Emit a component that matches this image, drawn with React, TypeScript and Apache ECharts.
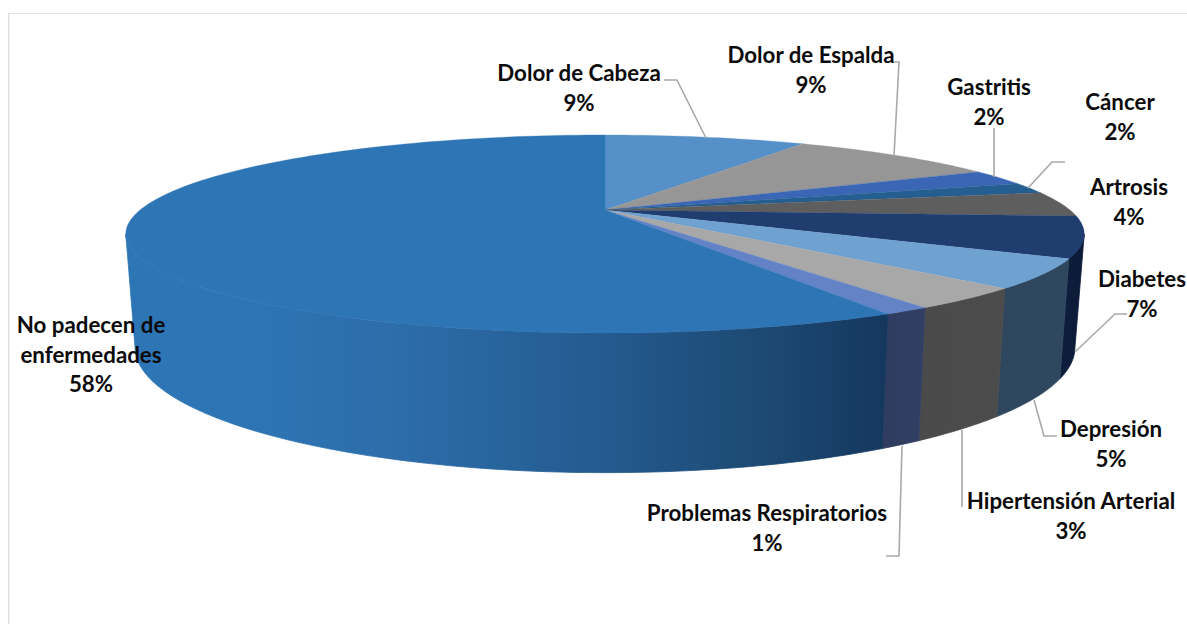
import React, { useEffect, useRef } from "react";
import * as echarts from "echarts";

const categories = ["Dolor de Cabeza", "Dolor de Espalda", "Gastritis", "Cáncer", "Artrosis", "Diabetes", "Depresión", "Hipertensión Arterial", "Problemas Respiratorios", "No padecen de\nenfermedades"];
const sliceValues = [8.6, 8.9, 2.6, 1.8, 4.1, 6.7, 4.65, 3.4, 1.3, 57.95];
const percentLabels = ["9%", "9%", "2%", "2%", "4%", "7%", "5%", "3%", "1%", "58%"];

const topColors = ["#5590C8", "#969696", "#3A66B5", "#255E91", "#5E5E5E", "#203D70", "#6FA1D1", "#A8A8A8", "#6383C6", "#2E75B6"];
const wallStops: [number, string][][] = [
  [[0, "#2F5F8F"], [1, "#2F5F8F"]],
  [[0, "#555555"], [1, "#555555"]],
  [[0, "#1F3A6A"], [1, "#1F3A6A"]],
  [[0, "#153656"], [1, "#153656"]],
  [[0, "#333333"], [1, "#333333"]],
  [[0, "#0E1E3E"], [1, "#0C1A36"]],
  [[0, "#2F475E"], [1, "#30485F"]],
  [[0, "#4A4A4A"], [1, "#4C4C4C"]],
  [[0, "#2F3C60"], [1, "#323F64"]],
  [[0, "#2E75B6"], [0.14, "#2E75B6"], [0.34, "#2D6EAB"], [0.62, "#245B90"], [0.85, "#1C4871"], [1, "#15375E"]],
];

const labelCenters = [[579, 58], [811, 40], [989, 72], [1120, 87], [1129, 172], [1142, 264], [1111, 414], [1071, 486], [767, 498], [91, 310]];
const leaderLines = [
  [[664, 80], [677, 80], [706, 138]],
  [[893, 62], [899, 62], [894, 156]],
  [[994, 128], [994, 177]],
  [[1065, 162], [1052, 162], [1028, 188]],
  [[1127, 314], [1115, 314], [1075, 352]],
  [[1034, 400], [1044, 436], [1057, 436]],
  [[962, 430], [962, 507]],
  [[902, 446], [899, 556], [886, 556]],
];

const CX = 605, CY = 210, R = 465, K = 93.2, P = 0.242;
const R_B = 456, Y_B = 317, K_B = 118;
const total = sliceValues.reduce((a, b) => a + b, 0);
const visibleFrom = 90 + (Math.asin(P) * 180) / Math.PI;
const visibleTo = 270 - (Math.asin(P) * 180) / Math.PI;

function uv(deg: number) {
  const t = (deg * Math.PI) / 180;
  return [Math.sin(t), -Math.cos(t)];
}
function topPt(deg: number) {
  const [u, v] = uv(deg);
  const w = 1 - P * v;
  return [CX + (R * u) / w, CY + (K * v) / w];
}
function botPt(deg: number) {
  const [u, v] = uv(deg);
  const w = 1 - P * v;
  return [CX + (R_B * u) / w, Y_B + (K_B * v) / w];
}
function arcDegs(a0: number, a1: number) {
  const n = Math.max(2, Math.ceil((a1 - a0) / 1.5));
  const out: number[] = [];
  for (let i = 0; i <= n; i++) out.push(a0 + ((a1 - a0) * i) / n);
  return out;
}

let acc = 0;
const sliceRanges = sliceValues.map((v) => {
  const s = acc;
  acc += v;
  return [(s / total) * 360, (acc / total) * 360];
});

export default function App() {
  const ref = useRef<HTMLDivElement>(null);
  useEffect(() => {
    document.body.style.margin = "0";
    const chart = echarts.init(ref.current!, undefined, { renderer: "svg" });
    chart.setOption({
      animation: false,
      backgroundColor: "#FFFFFF",
      graphic: [
        { type: "rect", shape: { x: 8, y: 13, width: 1179, height: 1 }, style: { fill: "#E4E4E4" }, silent: true },
        { type: "rect", shape: { x: 8, y: 13, width: 1.5, height: 611 }, style: { fill: "#E0E0E0" }, silent: true },
        ...leaderLines.map((pts) => ({
          type: "polyline",
          z: 10,
          shape: { points: pts },
          style: { stroke: "#A9A9A9", lineWidth: 1.6, fill: "none" },
          silent: true,
        })),
        ...categories.map((c, i) => ({
          type: "text",
          z: 20,
          x: labelCenters[i][0],
          y: labelCenters[i][1],
          silent: true,
          style: {
            text: c + "\n" + percentLabels[i],
            fontFamily: "Lato",
            fontWeight: "bold",
            fontSize: 22.3,
            lineHeight: 29.5,
            fill: "#0B0B0B",
            textAlign: "center",
            textVerticalAlign: "top",
          },
        })),
      ],
      series: [
        {
          type: "custom",
          coordinateSystem: "none",
          silent: true,
          z: 2,
          data: sliceRanges,
          renderItem: (params: any, api: any) => {
            const i = params.dataIndex;
            const a0 = Math.max(api.value(0), visibleFrom);
            const a1 = Math.min(api.value(1), visibleTo);
            if (a1 <= a0) return { type: "group", children: [] };
            const degs = arcDegs(a0, a1);
            const top = degs.map(topPt);
            const bot = degs.map(botPt).reverse();
            const pts = [...top, ...bot];
            const xs = pts.map((p) => p[0]);
            const minX = Math.min(...xs), maxX = Math.max(...xs);
            const fill = new echarts.graphic.LinearGradient(
              minX, 0, maxX, 0,
              wallStops[i].map(([offset, color]) => ({ offset, color })),
              true
            );
            return { type: "polygon", shape: { points: pts }, style: { fill, stroke: fill, lineWidth: 0.8 } };
          },
        },
        {
          type: "custom",
          coordinateSystem: "none",
          silent: true,
          z: 3,
          data: sliceRanges,
          renderItem: (params: any, api: any) => {
            const i = params.dataIndex;
            const rim = arcDegs(api.value(0), api.value(1)).map(topPt);
            return {
              type: "polygon",
              shape: { points: [[CX, CY], ...rim] },
              style: { fill: topColors[i], stroke: topColors[i], lineWidth: 0.3 },
            };
          },
        },
      ],
    });
    return () => chart.dispose();
  }, []);
  return <div ref={ref} style={{ position: "absolute", left: 0, top: 0, width: 1187, height: 624 }} />;
}
